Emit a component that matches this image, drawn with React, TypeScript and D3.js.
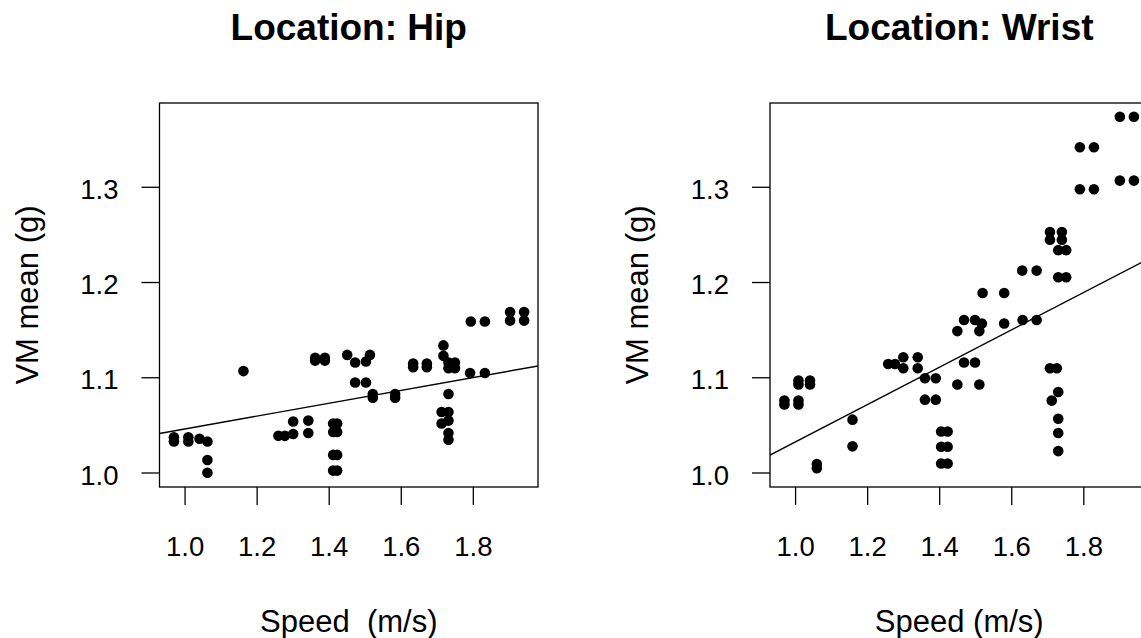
import * as React from "react";
import * as d3 from "d3";

// Hip: speed (m/s) and VM mean (g)
const hipSpeed = [
  0.969, 0.969, 1.009, 1.009, 1.04, 1.062, 1.062, 1.062, 1.162,
  1.259, 1.277, 1.3, 1.3, 1.342, 1.342,
  1.411, 1.422, 1.411, 1.422, 1.411, 1.422, 1.411, 1.422,
  1.361, 1.361, 1.388, 1.388, 1.45, 1.472, 1.502, 1.513, 1.472, 1.502,
  1.521, 1.521, 1.583, 1.583, 1.633, 1.633, 1.671, 1.671,
  1.717, 1.717, 1.731, 1.749, 1.731, 1.749, 1.791, 1.832,
  1.731, 1.712, 1.731, 1.712, 1.731, 1.731, 1.731,
  1.793, 1.832, 1.902, 1.902, 1.941, 1.941,
];
const hipVm = [
  1.0375, 1.033, 1.0375, 1.033, 1.036, 1.033, 1.0137, 1.0003, 1.107,
  1.039, 1.039, 1.041, 1.054, 1.055, 1.042,
  1.052, 1.052, 1.043, 1.043, 1.019, 1.019, 1.0025, 1.0025,
  1.121, 1.118, 1.121, 1.118, 1.124, 1.116, 1.117, 1.124, 1.095, 1.095,
  1.083, 1.079, 1.083, 1.079, 1.115, 1.111, 1.115, 1.111,
  1.134, 1.123, 1.116, 1.116, 1.11, 1.11, 1.105, 1.105,
  1.083, 1.064, 1.064, 1.052, 1.055, 1.042, 1.035,
  1.159, 1.159, 1.169, 1.16, 1.169, 1.16,
];

// Wrist
const wristSpeed = [
  0.969, 0.969, 1.008, 1.008, 1.008, 1.008, 1.04, 1.04, 1.059, 1.059,
  1.158, 1.158, 1.257, 1.276, 1.299, 1.299, 1.339, 1.339,
  1.359, 1.389, 1.359, 1.389,
  1.404, 1.422, 1.404, 1.422, 1.404, 1.422,
  1.449, 1.51, 1.4675, 1.498, 1.517, 1.579, 1.63, 1.669, 1.519, 1.579,
  1.4675, 1.498, 1.449, 1.51,
  1.706, 1.725, 1.729, 1.711, 1.729, 1.729, 1.729,
  1.9, 1.939, 1.789, 1.828, 1.789, 1.828, 1.9, 1.939,
  1.706, 1.739, 1.706, 1.739, 1.729, 1.751, 1.729, 1.751, 1.629, 1.669,
];
const wristVm = [
  1.076, 1.072, 1.076, 1.072, 1.097, 1.093, 1.097, 1.093, 1.0095, 1.005,
  1.056, 1.028, 1.1145, 1.1145, 1.1215, 1.11, 1.1215, 1.11,
  1.0995, 1.0995, 1.077, 1.077,
  1.0435, 1.0435, 1.0275, 1.0275, 1.01, 1.01,
  1.149, 1.149, 1.1607, 1.1607, 1.157, 1.157, 1.1607, 1.1607, 1.189, 1.189,
  1.116, 1.116, 1.093, 1.093,
  1.11, 1.11, 1.085, 1.076, 1.057, 1.042, 1.023,
  1.374, 1.374, 1.342, 1.342, 1.298, 1.298, 1.307, 1.307,
  1.253, 1.253, 1.245, 1.245, 1.234, 1.234, 1.2055, 1.2055, 1.2125, 1.2125,
];

// fitted lines (intercept, slope) as drawn
const hipFit = [0.9788, 0.0675];
const wristFit = [0.8368, 0.196];

const xTicks = [1.0, 1.2, 1.4, 1.6, 1.8];
const yTicks = [1.0, 1.1, 1.2, 1.3];
const xDomain = [0.929, 1.9795];
const yDomain = [0.9853, 1.3885];

const font = "'Liberation Sans', Arial, Helvetica, sans-serif";

interface PanelProps {
  left: number;
  title: string;
  xLabel: string;
  speed: number[];
  vm: number[];
  fit: number[];
  clipId: string;
}

const Panel = (p: PanelProps) => {
  const width = 378.5;
  const top = 103;
  const bottom = 487;
  const x = d3.scaleLinear().domain(xDomain).range([p.left, p.left + width]);
  const y = d3.scaleLinear().domain(yDomain).range([bottom, top]);
  const cx = p.left + width / 2;
  const tick = 18;
  return (
    <g>
      <text x={cx} y={40} textAnchor="middle" fontFamily={font} fontWeight="bold" fontSize={37}>
        {p.title}
      </text>
      <defs>
        <clipPath id={p.clipId}>
          <rect x={p.left} y={top} width={width} height={bottom - top} />
        </clipPath>
      </defs>
      <rect x={p.left} y={top} width={width} height={bottom - top} fill="none" stroke="#000" strokeWidth={1.3} />
      {xTicks.map((t) => (
        <g key={"x" + t}>
          <line x1={x(t)} x2={x(t)} y1={bottom} y2={bottom + tick} stroke="#000" strokeWidth={1.3} />
          <text x={x(t)} y={556} textAnchor="middle" fontFamily={font} fontSize={27.5}>
            {t.toFixed(1)}
          </text>
        </g>
      ))}
      {yTicks.map((t) => (
        <g key={"y" + t}>
          <line x1={p.left - tick} x2={p.left} y1={y(t)} y2={y(t)} stroke="#000" strokeWidth={1.3} />
          <text x={p.left - 41} y={y(t) + 11.5} textAnchor="end" fontFamily={font} fontSize={27.5}>
            {t.toFixed(1)}
          </text>
        </g>
      ))}
      <text x={cx} y={632} textAnchor="middle" fontFamily={font} fontSize={31} style={{ whiteSpace: "pre" }}>
        {p.xLabel}
      </text>
      <text
        transform={`translate(${p.left - 122},${(top + bottom) / 2}) rotate(-90)`}
        textAnchor="middle"
        fontFamily={font}
        fontSize={31}
      >
        VM mean (g)
      </text>
      <g clipPath={`url(#${p.clipId})`}>
        <line
          x1={x(xDomain[0])}
          y1={y(p.fit[0] + p.fit[1] * xDomain[0])}
          x2={x(xDomain[1])}
          y2={y(p.fit[0] + p.fit[1] * xDomain[1])}
          stroke="#000"
          strokeWidth={1.4}
        />
        {p.speed.map((s, i) => (
          <circle key={i} cx={x(s)} cy={y(p.vm[i])} r={5.3} fill="#000" />
        ))}
      </g>
    </g>
  );
};

export default function App() {
  return (
    <svg
      width={1141}
      height={638}
      style={{ position: "absolute", left: 0, top: 0, background: "#fff" }}
    >
      <rect width={1141} height={638} fill="#fff" />
      <Panel left={159.5} title="Location: Hip" xLabel={"Speed  (m/s)"} speed={hipSpeed} vm={hipVm} fit={hipFit} clipId="clipHip" />
      <Panel left={770} title="Location: Wrist" xLabel="Speed (m/s)" speed={wristSpeed} vm={wristVm} fit={wristFit} clipId="clipWrist" />
    </svg>
  );
}
